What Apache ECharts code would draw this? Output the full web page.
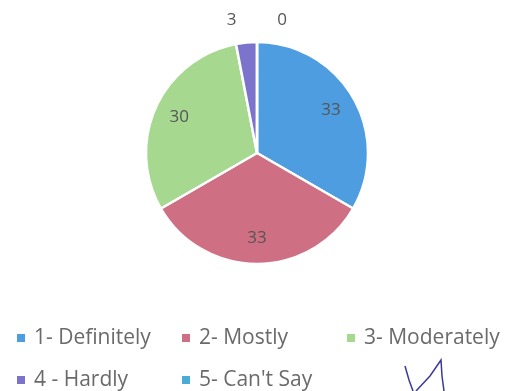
<!DOCTYPE html>
<html>
<head>
<meta charset="utf-8">
<script src="https://cdn.jsdelivr.net/npm/echarts@6/dist/echarts.min.js"></script>
<style>
html,body{margin:0;padding:0;background:#fff;}
#chart{width:508px;height:391px;}
</style>
</head>
<body>
<div id="chart"></div>
<script>
const categories = ['1- Definitely', '2- Mostly', '3- Moderately', '4 - Hardly', "5- Can't Say"];
const values = [33, 33, 30, 3, 0];
const colors = ['#4e9de0', '#cf6f83', '#a6d98f', '#7b73cc', '#48acd6'];

const FONT = '"Open Sans", "Liberation Sans", sans-serif';
const center = [257, 153];
const R = 111;

const mainData = categories.map((c, i) => ({ name: c, value: values[i], itemStyle: { color: colors[i] } }));
const labelData = categories.map((c, i) => {
  const small = values[i] < 5;
  return {
    name: c,
    value: values[i],
    label: small ? { show: true, position: 'outside' } : { show: true, position: 'inside' }
  };
});

// legend slots: column (left) and row (top) for each category
const legendLeft = [15, 180, 345, 15, 180];
const legendTop = [327, 327, 327, 369, 369];

const chart = echarts.init(document.getElementById('chart'), null, { renderer: 'canvas' });
chart.setOption({
  backgroundColor: '#ffffff',
  animation: false,
  color: colors,
  legend: categories.map((c, i) => ({
    data: [c], left: legendLeft[i], top: legendTop[i], orient: 'horizontal', padding: 0,
    icon: 'rect', itemWidth: 10, itemHeight: 10,
    textStyle: { fontFamily: FONT, fontSize: 21, lineHeight: 22, color: '#6a6a6a', padding: [0, 0, 0, 3] },
    selectedMode: false
  })),
  series: [
    {
      type: 'pie',
      center: center,
      radius: R,
      startAngle: 90,
      clockwise: true,
      avoidLabelOverlap: false,
      label: { show: false },
      labelLine: { show: false },
      itemStyle: { borderColor: '#ffffff', borderWidth: 2.5 },
      emphasis: { disabled: true },
      data: mainData
    },
    {
      type: 'pie',
      center: center,
      radius: [54, R],
      startAngle: 90,
      clockwise: true,
      silent: true,
      avoidLabelOverlap: false,
      itemStyle: { color: 'rgba(0,0,0,0)', borderWidth: 0 },
      label: { fontFamily: FONT, fontSize: 17, color: '#555555', formatter: '{c}', distanceToLabelLine: 8 },
      labelLine: { show: false, length: 22, length2: 0 },
      labelLayout: function (params) {
        return values[params.dataIndex] === 0 ? { dx: 38 } : {};
      },
      emphasis: { disabled: true },
      data: labelData,
      z: 5
    }
  ],
  graphic: [
    { type: 'polyline', shape: { points: [[405, 366], [409, 380], [413, 391]] }, style: { stroke: '#3a3a9a', lineWidth: 1.5, fill: null } },
    { type: 'polyline', shape: { points: [[416, 391], [430, 376], [441, 360], [442, 376], [444, 391]] }, style: { stroke: '#3a3a9a', lineWidth: 1.5, fill: null } }
  ]
});
</script>
</body>
</html>
